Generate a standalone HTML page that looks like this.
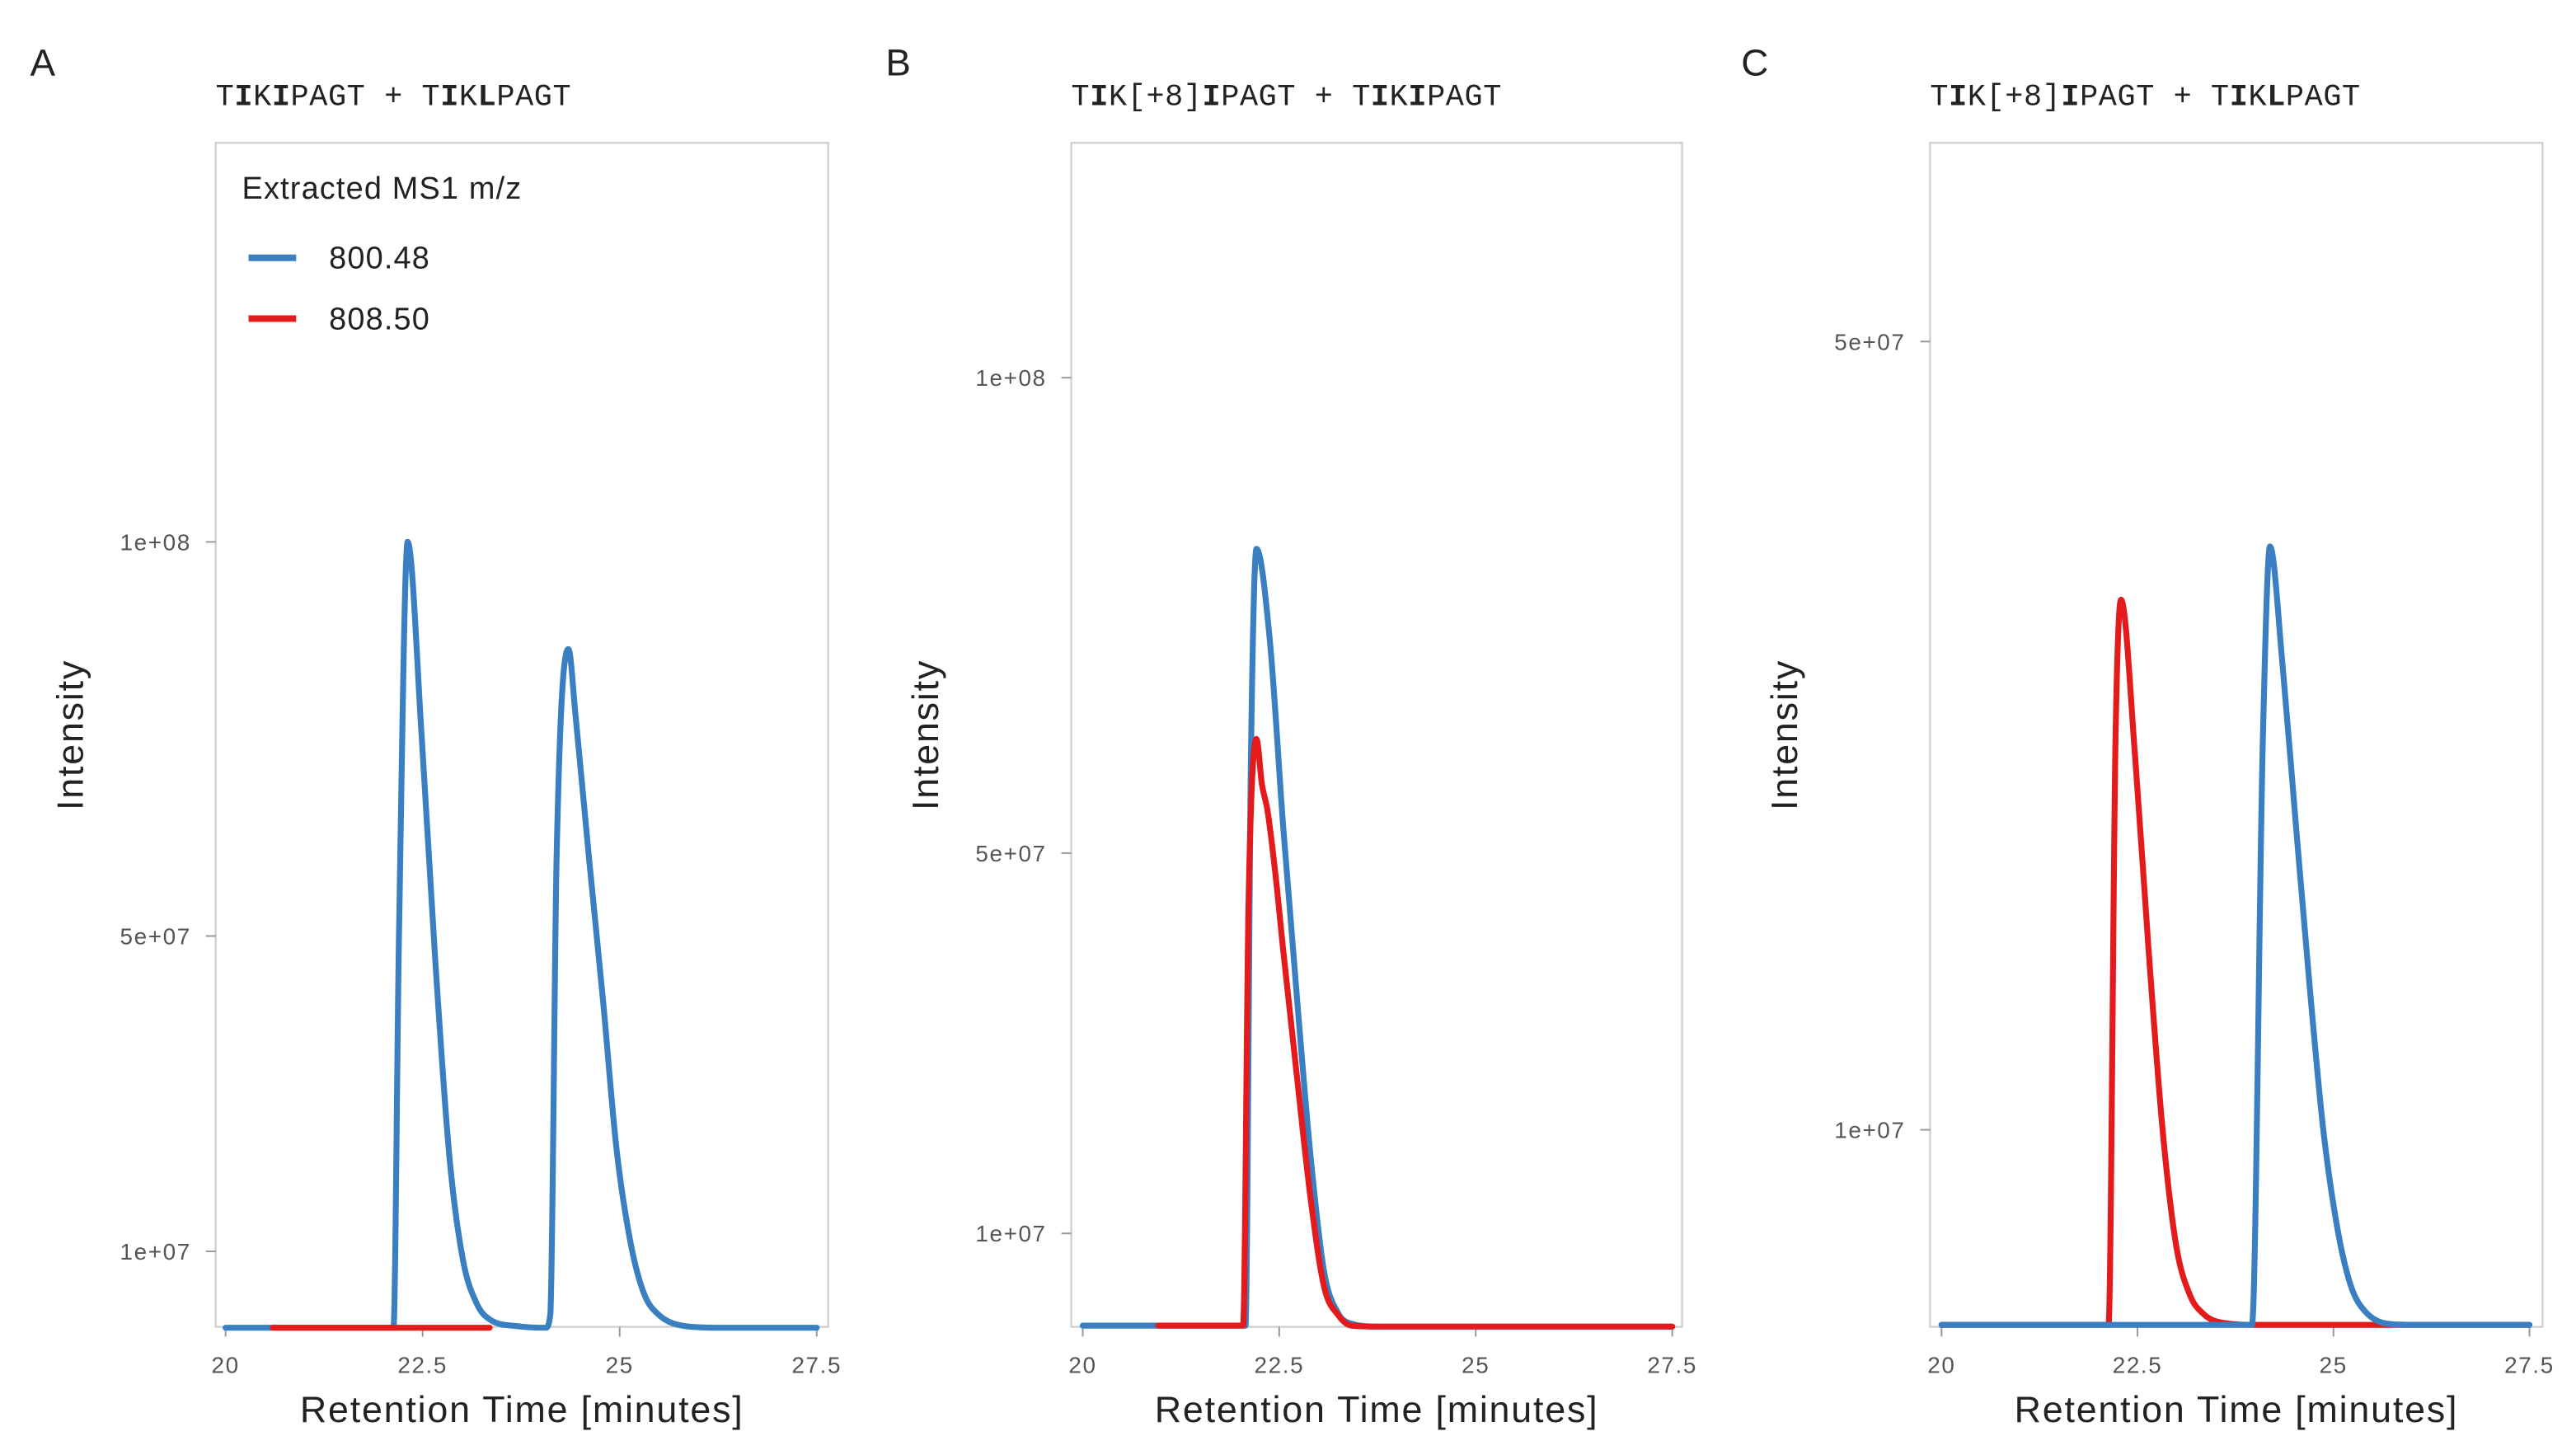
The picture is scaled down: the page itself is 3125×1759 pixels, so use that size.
<!DOCTYPE html>
<html><head><meta charset="utf-8">
<style>
html,body{margin:0;padding:0;background:#fff;}
svg{display:block;}
.tick{font-family:"Liberation Sans",sans-serif;font-size:14px;letter-spacing:0.8px;fill:#555;}
.axt{font-family:"Liberation Sans",sans-serif;font-size:22.5px;letter-spacing:0.9px;fill:#222;}
.ttl{font-family:"Liberation Mono",monospace;font-size:18.5px;letter-spacing:0.3px;fill:#222;}
.lab{font-family:"Liberation Sans",sans-serif;font-size:23px;fill:#222;}
.leg{font-family:"Liberation Sans",sans-serif;font-size:19px;letter-spacing:0.6px;fill:#222;}
</style></head><body>
<svg id="fig" width="3125" height="1759" viewBox="0 0 1568 883" xmlns="http://www.w3.org/2000/svg">
<rect width="1568" height="883" fill="#fff"/>
<g id="root"></g>
</svg>
<script>
// ---- data (time in minutes, intensity in units of 1e7) ----
const xTickLabels = ["20","22.5","25","27.5"];
const xTickValues = [20,22.5,25,27.5];
const yTickValuesA = [1,5,10];
const yTickLabelsA = ["1e+07","5e+07","1e+08"];
const yTickValuesB = [1,5,10];
const yTickLabelsB = ["1e+07","5e+07","1e+08"];
const yTickValuesC = [1,5];
const yTickLabelsC = ["1e+07","5e+07"];

const aBlueT = [20,22.13,22.2,22.31,22.49,22.66,22.84,23.01,23.19,23.36,23.71,24.06,24.12,24.2,24.35,24.44,24.61,24.79,24.96,25.14,25.31,25.49,25.84,26.3,27.5];
const aBlueI = [0.03,0.03,5.0,10.0,7.5,4.7,2.2,0.9,0.33,0.13,0.05,0.03,0.2,6.0,8.64,7.8,6.0,4.17,2.3,1.1,0.46,0.2,0.05,0.03,0.03];
const aRedT = [20.6,23.35];
const aRedI = [0.03,0.03];

const bBlueT = [20,22.07,22.14,22.21,22.38,22.55,22.73,22.9,23.07,23.25,23.42,23.77,27.5];
const bBlueI = [0.03,0.03,6.0,8.2,7.24,5.28,3.43,1.8,0.6,0.16,0.05,0.02,0.02];
const bRedT = [20.96,22.04,22.11,22.21,22.28,22.35,22.45,22.55,22.73,22.9,23.07,23.25,23.42,23.8,27.5];
const bRedI = [0.03,0.03,4.5,6.2,5.72,5.45,4.79,3.98,2.61,1.36,0.44,0.14,0.03,0.02,0.02];

const cRedT = [20,22.13,22.22,22.29,22.47,22.64,22.82,22.99,23.17,23.34,23.52,24.04,27.5];
const cRedI = [0.01,0.01,3.0,3.69,2.89,1.92,1.0,0.42,0.16,0.066,0.026,0.01,0.01];
const cBlueT = [20,23.96,24.1,24.19,24.35,24.52,24.7,24.87,25.05,25.22,25.4,25.75,26.1,27.5];
const cBlueI = [0.01,0.01,3.0,3.96,3.36,2.55,1.71,1.0,0.5,0.21,0.08,0.013,0.01,0.01];

// ---- layout ----
const NS="http://www.w3.org/2000/svg";
const root=document.getElementById('root');
function mk(tag,attrs,parent){const e=document.createElementNS(NS,tag);for(const k in attrs)e.setAttribute(k,attrs[k]);(parent||root).appendChild(e);return e;}

// monotone cubic path through screen points
function monotonePath(P){
  const n=P.length; if(n<2) return '';
  const dx=[],dy=[],m=[];
  for(let i=0;i<n-1;i++){dx.push(P[i+1][0]-P[i][0]);dy.push(P[i+1][1]-P[i][1]);m.push(dy[i]/dx[i]);}
  const t=new Array(n);
  t[0]=m[0]; t[n-1]=m[n-2];
  for(let i=1;i<n-1;i++){ t[i]=(m[i-1]*m[i]<=0)?0:(m[i-1]+m[i])/2; }
  for(let i=0;i<n-1;i++){
    if(m[i]===0){t[i]=0;t[i+1]=0;continue;}
    const a=t[i]/m[i],b=t[i+1]/m[i],s=a*a+b*b;
    if(s>9){const k=3/Math.sqrt(s);t[i]=k*a*m[i];t[i+1]=k*b*m[i];}
  }
  let d='M'+P[0][0].toFixed(2)+' '+P[0][1].toFixed(2);
  for(let i=0;i<n-1;i++){
    const h=dx[i]/3;
    d+=' C'+(P[i][0]+h).toFixed(2)+' '+(P[i][1]+t[i]*h).toFixed(2)+' '+(P[i+1][0]-h).toFixed(2)+' '+(P[i+1][1]-t[i+1]*h).toFixed(2)+' '+P[i+1][0].toFixed(2)+' '+P[i+1][1].toFixed(2);
  }
  return d;
}

const panels=[
 {id:'a',letter:'A',lx:18,box:[131,87,504,808],x20:137,x275:497,base:810,per:48,
  yv:yTickValuesA,yl:yTickLabelsA,
  title:[["T",0],["I",1],["K",0],["I",1],["PAGT + T",0],["I",1],["K",0],["L",1],["PAGT",0]],
  series:[[aBlueT,aBlueI,'#3a7fc1','blue'],[aRedT,aRedI,'#e41a1c','red']]},
 {id:'b',letter:'B',lx:539,box:[652,87,1024,808],x20:659,x275:1018,base:809,per:57.9,
  yv:yTickValuesB,yl:yTickLabelsB,
  title:[["T",0],["I",1],["K[+8]",0],["I",1],["PAGT + T",0],["I",1],["K",0],["I",1],["PAGT",0]],
  series:[[bBlueT,bBlueI,'#3a7fc1','blue'],[bRedT,bRedI,'#e41a1c','red']]},
 {id:'c',letter:'C',lx:1060,box:[1175,87,1548,808],x20:1182,x275:1540,base:808,per:120,
  yv:yTickValuesC,yl:yTickLabelsC,
  title:[["T",0],["I",1],["K[+8]",0],["I",1],["PAGT + T",0],["I",1],["K",0],["L",1],["PAGT",0]],
  series:[[cRedT,cRedI,'#e41a1c','red'],[cBlueT,cBlueI,'#3a7fc1','blue']]}
];

panels.forEach(p=>{
  const g=mk('g',{});
  
  
  const xs=t=>p.x20+(t-20)*(p.x275-p.x20)/7.5;
  const ys=v=>p.base-v*p.per;
  const [x0,y0,x1,y1]=p.box;
  const lab=mk('text',{x:p.lx,y:46,class:'lab'},g);lab.textContent=p.letter;
  
  
  const tt=mk('text',{x:x0,y:64,class:'ttl'},g);
  
  
  p.title.forEach(([s,b])=>{const ts=mk('tspan',b?{'font-weight':'bold'}:{},tt);ts.textContent=s;});
  const fr=mk('rect',{x:x0,y:y0,width:x1-x0,height:y1-y0,fill:'none',stroke:'#d0d0d0','stroke-width':1.2},g);
  
  
  xTickValues.forEach((v,i)=>{
    const x=xs(v);
    mk('line',{x1:x,x2:x,y1:y1,y2:y1+6,stroke:'#999','stroke-width':1},g);
    const t=mk('text',{x:x,y:y1+28,'text-anchor':'middle',class:'tick'},g);t.textContent=xTickLabels[i];
    
    
  });
  p.yv.forEach((v,i)=>{
    const y=ys(v);
    mk('line',{x1:x0-6,x2:x0,y1:y,y2:y,stroke:'#999','stroke-width':1},g);
    const t=mk('text',{x:x0-15,y:y+5,'text-anchor':'end',class:'tick'},g);t.textContent=p.yl[i];
    
    
  });
  const xt=mk('text',{x:(x0+x1)/2,y:866,'text-anchor':'middle',class:'axt'},g);xt.textContent='Retention Time [minutes]';
  
  
  const cy=(y0+y1)/2;
  const yx=x0-81;
  const yt=mk('text',{x:yx,y:cy,'text-anchor':'middle',class:'axt',transform:`rotate(-90 ${yx} ${cy})`},g);
  yt.textContent='Intensity';
  
  
  p.series.forEach(([T,I,col,nm])=>{
    const pts=T.map((t,i)=>[xs(t),ys(I[i])]);
    const path=mk('path',{d:monotonePath(pts),fill:'none',stroke:col,'stroke-width':3.6,'stroke-linejoin':'round','stroke-linecap':'round'},g);
    
    
  });
});

// legend in panel A
const lg=mk('g',{});


const lt=mk('text',{x:147,y:121,class:'leg'},lg);lt.textContent='Extracted MS1 m/z';


[['800.48','#3a7fc1',157],['808.50','#e41a1c',194]].forEach(([s,c,y])=>{
  const ln=mk('line',{x1:151,x2:180,y1:y,y2:y,stroke:c,'stroke-width':4},lg);
  
  
  const t=mk('text',{x:200,y:y+6.5,class:'leg'},lg);t.textContent=s;
  
  
});
</script>
</body></html>
